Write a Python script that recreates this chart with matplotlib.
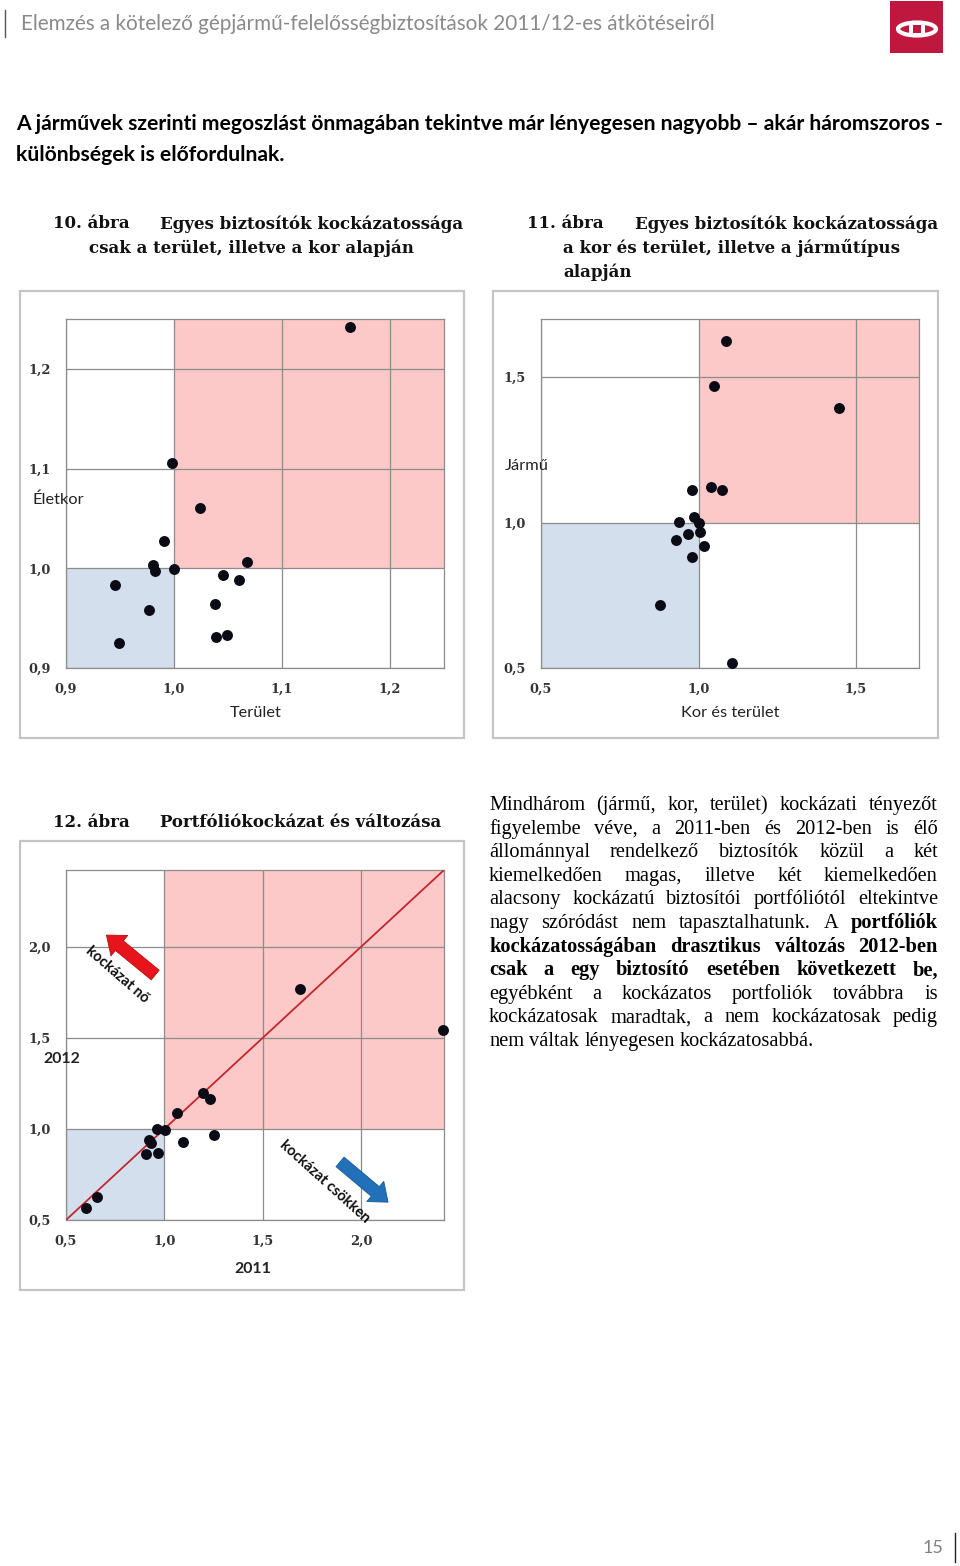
import numpy as np
import matplotlib.pyplot as plt
from matplotlib.patches import Rectangle, Ellipse
from matplotlib.lines import Line2D

W, H = 960, 1566

# 10. abra - terulet (x) es eletkor (y)
terulet = [1.163, 0.998, 1.024, 0.991, 1.068, 0.981, 0.982, 1.000,
           0.945, 1.045, 1.060, 0.977, 1.038, 0.949, 1.039, 1.049]
eletkor = [1.242, 1.106, 1.060, 1.027, 1.006, 1.003, 0.997, 0.999,
           0.983, 0.993, 0.988, 0.958, 0.964, 0.925, 0.931, 0.933]

# 11. abra - kor es terulet (x) es jarmu (y)
kor_terulet = [1.087, 1.049, 1.446, 1.039, 1.075, 0.980, 0.985, 0.938,
               1.001, 0.967, 1.004, 0.930, 1.016, 0.979, 0.878, 1.106]
jarmu = [1.626, 1.471, 1.394, 1.121, 1.113, 1.112, 1.018, 1.002,
         0.998, 0.961, 0.967, 0.940, 0.918, 0.881, 0.716, 0.516]

# 12. abra - 2011 (x) es 2012 (y)
r2011 = [1.687, 2.416, 1.195, 1.231, 1.064, 0.963, 1.005, 1.254,
         1.093, 0.923, 0.931, 0.907, 0.968, 0.655, 0.601]
r2012 = [1.765, 1.544, 1.196, 1.163, 1.087, 1.001, 0.996, 0.965,
         0.930, 0.941, 0.925, 0.861, 0.870, 0.626, 0.567]

ticks1 = [0.9, 1.0, 1.1, 1.2]
ticks2 = [0.5, 1.0, 1.5]
ticks3 = [0.5, 1.0, 1.5, 2.0]

header = "Elemzés a kötelező gépjármű-felelősségbiztosítások 2011/12-es átkötéseiről"
intro = ["A járművek szerinti megoszlást önmagában tekintve már lényegesen nagyobb – akár háromszoros -",
         "különbségek is előfordulnak."]

# '*' before a word = bold
para = [
    "Mindhárom (jármű, kor, terület) kockázati tényezőt",
    "figyelembe véve, a 2011-ben és 2012-ben is élő",
    "állománnyal rendelkező biztosítók közül a két",
    "kiemelkedően magas, illetve két kiemelkedően",
    "alacsony kockázatú biztosítói portfóliótól eltekintve",
    "nagy szóródást nem tapasztalhatunk. A *portfóliók",
    "*kockázatosságában *drasztikus *változás *2012-ben",
    "*csak *a *egy *biztosító *esetében *következett *be,",
    "egyébként a kockázatos portfoliók továbbra is",
    "kockázatosak maradtak, a nem kockázatosak pedig",
    "nem váltak lényegesen kockázatosabbá.",
]

SANS = ['Liberation Sans Narrow', 'Lato', 'DejaVu Sans']
LATO = ['Lato', 'DejaVu Sans']
SERIF_B = 'DejaVu Serif'

fig = plt.figure(figsize=(9.6, 15.66), dpi=100)
fig.patch.set_facecolor('white')
renderer = fig.canvas.get_renderer()


def fx(x):
    return x / W


def fy(y):
    return 1 - y / H


def text_w(s, **kw):
    t = fig.text(0, 0, s, **kw)
    w = t.get_window_extent(renderer).width
    t.remove()
    return w


def fit_size(s, width, **kw):
    return 10 * width / text_w(s, fontsize=10, **kw)


def frame(x0, y0, x1, y1):
    fig.add_artist(Rectangle((fx(x0), fy(y1)), fx(x1) - fx(x0), fy(y0) - fy(y1),
                             transform=fig.transFigure, fill=False,
                             edgecolor='#C4C4C4', lw=1.6))


def axes_px(x0, y0, x1, y1):
    return fig.add_axes([fx(x0), fy(y1), fx(x1) - fx(x0), fy(y0) - fy(y1)])


def scatter_panel(ax, xs, ys, lo, xhi, yhi, ticks):
    ax.set_xlim(lo, xhi)
    ax.set_ylim(lo, yhi)
    ax.add_patch(Rectangle((lo, lo), 1 - lo, 1 - lo, facecolor='#D4DFEE',
                           edgecolor='none', zorder=0))
    ax.add_patch(Rectangle((1, 1), xhi - 1, yhi - 1, facecolor='#FCC8C8',
                           edgecolor='none', zorder=0))
    ax.set_xticks(ticks)
    ax.set_yticks(ticks)
    labs = [f"{t:.1f}".replace('.', ',') for t in ticks]
    ax.set_xticklabels(labs)
    ax.set_yticklabels(labs)
    for lab in ax.get_xticklabels() + ax.get_yticklabels():
        lab.set_family(SERIF_B)
        lab.set_weight('bold')
        lab.set_fontsize(9.3)
        lab.set_color('#333333')
    ax.tick_params(length=0, pad=11)
    ax.grid(True, color='#8C8C8C', lw=0.9, zorder=1)
    ax.set_axisbelow(True)
    for sp in ax.spines.values():
        sp.set_color('#8C8C8C')
        sp.set_linewidth(0.9)
    ax.scatter(xs, ys, s=62, color='#0B0B16', zorder=5, linewidths=0, clip_on=False)


# header
fig.add_artist(Line2D([fx(5), fx(5)], [fy(10), fy(37)], color='#555555', lw=1))
hs = fit_size(header, 695, family=SANS)
fig.text(fx(21), fy(24), header, family=SANS, fontsize=hs, color='#8A8A8A', va='center')

# logo
fig.add_artist(Rectangle((fx(890), fy(53)), fx(53), 52 / H, transform=fig.transFigure,
                         facecolor='#C0173E', edgecolor='none'))
fig.add_artist(Ellipse((fx(917), fy(29)), fx(38), 13 / H, transform=fig.transFigure,
                       fill=False, edgecolor='white', lw=3))
fig.add_artist(Rectangle((fx(909), fy(37)), fx(16), 16 / H, transform=fig.transFigure,
                         facecolor='white', edgecolor='none'))
fig.add_artist(Rectangle((fx(913), fy(33)), fx(8), 8 / H, transform=fig.transFigure,
                         facecolor='#C0173E', edgecolor='none'))

# intro bold text
isz = fit_size(intro[0], 929, family=SANS, weight='bold')
fig.text(fx(16), fy(124), intro[0], family=SANS, weight='bold', fontsize=isz, va='center')
fig.text(fx(16), fy(155), intro[1], family=SANS, weight='bold', fontsize=isz, va='center')

# captions
csz = fit_size("Egyes biztosítók kockázatossága", 305, family=SERIF_B, weight='bold')
cap_kw = dict(family=SERIF_B, weight='bold', fontsize=csz, va='center', color='#111111')
fig.text(fx(53), fy(224), "10. ábra", **cap_kw)
fig.text(fx(160), fy(224), "Egyes biztosítók kockázatossága", **cap_kw)
fig.text(fx(89), fy(248), "csak a terület, illetve a kor alapján", **cap_kw)
fig.text(fx(527), fy(224), "11. ábra", **cap_kw)
fig.text(fx(635), fy(224), "Egyes biztosítók kockázatossága", **cap_kw)
fig.text(fx(563), fy(248), "a kor és terület, illetve a járműtípus", **cap_kw)
fig.text(fx(563), fy(272), "alapján", **cap_kw)
fig.text(fx(53), fy(823), "12. ábra", **cap_kw)
fig.text(fx(160), fy(823), "Portfóliókockázat és változása", **cap_kw)

# chart frames
frame(20, 291, 464, 738)
frame(493, 291, 938, 738)
frame(20, 841, 464, 1290)

lsz = fit_size("Terület", 52, family=LATO)
lab_kw = dict(family=LATO, fontsize=lsz, color='#222222')
bsz = fit_size("2011", 37, family=LATO, weight='bold')
blab_kw = dict(family=LATO, fontsize=bsz, color='#222222', weight='bold')

# 10. abra
ax1 = axes_px(66, 319, 444, 668)
scatter_panel(ax1, terulet, eletkor, 0.9, 1.25, 1.25, ticks1)
fig.text(fx(256), fy(713), "Terület", ha='center', va='center', **lab_kw)
fig.text(fx(33), fy(500), "Életkor", ha='left', va='center', **lab_kw)

# 11. abra
ax2 = axes_px(541, 319, 919, 668)
scatter_panel(ax2, kor_terulet, jarmu, 0.5, 1.7, 1.7, ticks2)
fig.text(fx(730), fy(713), "Kor és terület", ha='center', va='center', **lab_kw)
fig.text(fx(505), fy(466), "Jármű", ha='left', va='center', **lab_kw)

# 12. abra
ax3 = axes_px(66, 870, 444, 1220)
scatter_panel(ax3, r2011, r2012, 0.5, 2.42, 2.42, ticks3)
lo, hi = ax3.get_xlim()
ax3.plot([lo, hi], [lo, hi], color='#C4262C', lw=1.3, zorder=3)
fig.text(fx(253), fy(1269), "2011", ha='center', va='center', **blab_kw)
fig.text(fx(43), fy(1059), "2012", ha='left', va='center', **blab_kw)

arr = "simple,head_length=0.6,head_width=0.95,tail_width=0.45"
ax3.annotate('', xy=(0.107, 0.814), xytext=(0.236, 0.70), xycoords='axes fraction',
             arrowprops=dict(arrowstyle=arr, mutation_scale=20, fc='#E8141B',
                             ec='#B01010', lw=0.6, shrinkA=0, shrinkB=0), zorder=6)
ax3.annotate('', xy=(0.852, 0.051), xytext=(0.725, 0.166), xycoords='axes fraction',
             arrowprops=dict(arrowstyle=arr, mutation_scale=20, fc='#2170B8',
                             ec='#1A5A95', lw=0.6, shrinkA=0, shrinkB=0), zorder=6)
ax3.text(0.135, 0.70, "kockázat nő", transform=ax3.transAxes, rotation=-41,
         ha='center', va='center', rotation_mode='anchor', weight='bold',
         family=LATO, fontsize=10.5, color='#111111', zorder=7)
ax3.text(0.685, 0.11, "kockázat csökken", transform=ax3.transAxes, rotation=-42,
         ha='center', va='center', rotation_mode='anchor', weight='bold',
         family=LATO, fontsize=10.5, color='#111111', zorder=7)

# justified paragraph
PFONT = 'Liberation Serif'
psz = fit_size(para[-1], 326, family=PFONT)
x0, x1 = 489, 938
base = 810
step = 23.6
sp_w = text_w("a a", family=PFONT, fontsize=psz) - 2 * text_w("a", family=PFONT, fontsize=psz)
for i, line in enumerate(para):
    words = []
    for w in line.split(' '):
        bold = w.startswith('*')
        words.append((w.lstrip('*'), 'bold' if bold else 'normal'))
    widths = [text_w(w, family=PFONT, fontsize=psz, weight=wt) for w, wt in words]
    if i < len(para) - 1 and len(words) > 1:
        gap = (x1 - x0 - sum(widths)) / (len(words) - 1)
    else:
        gap = sp_w
    x = x0
    y = base + i * step
    for (w, wt), ww in zip(words, widths):
        fig.text(fx(x), fy(y), w, family=PFONT, fontsize=psz, weight=wt,
                 va='baseline', color='#000000')
        x += ww + gap

# page number
fig.text(fx(943), fy(1548), "15", family=LATO, fontsize=13,
         color='#808080', ha='right', va='center')
fig.add_artist(Line2D([fx(955), fx(955)], [fy(1533), fy(1562)], color='#222222', lw=1))

fig.savefig('out.png', dpi=100)
